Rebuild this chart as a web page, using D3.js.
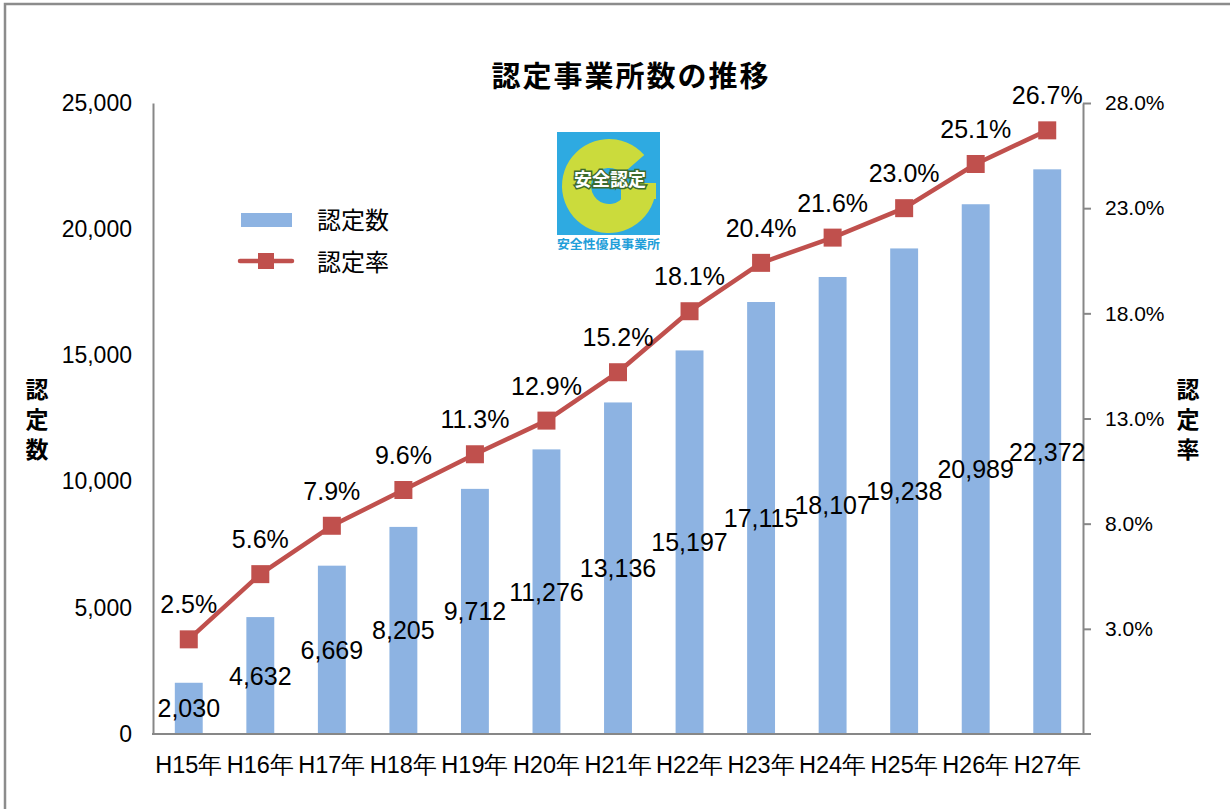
<!DOCTYPE html>
<html>
<head>
<meta charset="utf-8">
<script src="https://cdn.jsdelivr.net/npm/d3@7"></script>
<style>
  body { margin: 0; background: #fff; }
  svg { display: block; font-family: "Liberation Sans", "Noto Sans CJK JP", sans-serif; }
</style>
</head>
<body>
<svg id="chart"></svg>
<script>
// data
const years = ["H15年","H16年","H17年","H18年","H19年","H20年","H21年","H22年","H23年","H24年","H25年","H26年","H27年"];
const counts = [2030, 4632, 6669, 8205, 9712, 11276, 13136, 15197, 17115, 18107, 19238, 20989, 22372];
const rates = [2.5, 5.6, 7.9, 9.6, 11.3, 12.9, 15.2, 18.1, 20.4, 21.6, 23.0, 25.1, 26.7];
const leftTicks = [0, 5000, 10000, 15000, 20000, 25000];
const rightTicks = [3, 8, 13, 18, 23, 28];

const width = 1230, height = 809;
const plotLeft = 153, plotRight = 1083, plotTop = 103, plotBottom = 734;
const axisColor = "#878787";
const barColor = "#8db3e2";
const lineColor = "#c0504d";

const svg = d3.select("#chart").attr("width", width).attr("height", height);

// outer frame (only top + left visible)
svg.append("path")
   .attr("d", `M5,${height} V4 H${width}`)
   .attr("fill", "none")
   .attr("stroke", "#8c8c8c")
   .attr("stroke-width", 2.5);

const x = d3.scaleBand().domain(years).range([plotLeft, plotRight]).paddingInner(0.61).paddingOuter(0.305);
const yL = d3.scaleLinear().domain([0, 25000]).range([plotBottom, plotTop]);
const yR = d3.scaleLinear().domain([-2, 28]).range([plotBottom, plotTop]);
const cx = d => x(d) + x.bandwidth() / 2;

// title
svg.append("text")
   .attr("x", 631).attr("y", 77)
   .attr("text-anchor", "middle").attr("dominant-baseline", "central")
   .attr("font-size", 29).attr("font-weight", "bold")
   .attr("letter-spacing", 2)
   .text("認定事業所数の推移");

// bars
svg.append("g").selectAll("rect")
   .data(counts)
   .enter().append("rect")
   .attr("x", (d, i) => x(years[i]))
   .attr("y", d => yL(d))
   .attr("width", x.bandwidth())
   .attr("height", d => plotBottom - yL(d))
   .attr("fill", barColor);

// left axis
const gL = svg.append("g")
   .attr("transform", `translate(${plotLeft},0)`)
   .call(d3.axisLeft(yL).tickValues(leftTicks).tickSize(0).tickSizeOuter(0).tickPadding(21).tickFormat(d3.format(",")));
gL.select(".domain").attr("stroke", axisColor).attr("stroke-width", 2);
gL.selectAll("text").attr("font-size", 23).attr("fill", "#000").attr("font-family", null);

// right axis
const gR = svg.append("g")
   .attr("transform", `translate(${plotRight},0)`)
   .call(d3.axisRight(yR).tickValues(rightTicks).tickSize(8).tickSizeOuter(0).tickPadding(14).tickFormat(d => d.toFixed(1) + "%"));
gR.select(".domain").attr("stroke", axisColor).attr("stroke-width", 2);
gR.selectAll("line").attr("stroke", axisColor).attr("stroke-width", 2);
gR.selectAll("text").attr("font-size", 21).attr("fill", "#000").attr("font-family", null);

// bottom axis
const gB = svg.append("g")
   .attr("transform", `translate(0,${plotBottom})`)
   .call(d3.axisBottom(x).tickSize(0).tickPadding(22));
gB.select(".domain").remove();
gB.append("line")
   .attr("x1", plotLeft - 1).attr("x2", plotRight + 8)
   .attr("stroke", axisColor).attr("stroke-width", 2);
gB.selectAll("text").attr("font-size", 23.5).attr("fill", "#000").attr("font-family", null);

// bar value labels (middle of bar)
svg.append("g").selectAll("text")
   .data(counts)
   .enter().append("text")
   .attr("x", (d, i) => cx(years[i]))
   .attr("y", d => (yL(d) + plotBottom) / 2)
   .attr("text-anchor", "middle").attr("dominant-baseline", "central")
   .attr("font-size", 25)
   .text(d => d3.format(",")(d));

// rate line
const line = d3.line()
   .x((d, i) => cx(years[i]))
   .y(d => yR(d));

svg.append("path")
   .datum(rates)
   .attr("d", line)
   .attr("fill", "none")
   .attr("stroke", lineColor)
   .attr("stroke-width", 4.5)
   .attr("stroke-linejoin", "round");

svg.append("g").selectAll("rect")
   .data(rates)
   .enter().append("rect")
   .attr("x", (d, i) => cx(years[i]) - 9)
   .attr("y", d => yR(d) - 9)
   .attr("width", 18).attr("height", 18)
   .attr("fill", lineColor);

svg.append("g").selectAll("text")
   .data(rates)
   .enter().append("text")
   .attr("x", (d, i) => cx(years[i]))
   .attr("y", d => yR(d) - 35)
   .attr("text-anchor", "middle").attr("dominant-baseline", "central")
   .attr("font-size", 25)
   .text(d => d.toFixed(1) + "%");

// axis titles, vertical writing
function vTitle(str, xPos) {
  svg.append("text")
     .attr("x", xPos).attr("y", 423)
     .attr("writing-mode", "vertical-rl")
     .attr("text-anchor", "middle")
     .attr("font-size", 23).attr("font-weight", "bold")
     .attr("letter-spacing", 7)
     .attr("font-family", "'Noto Sans CJK JP', sans-serif")
     .text(str);
}
vTitle("認定数", 37);
vTitle("認定率", 1188);

// legend
const legend = svg.append("g");
legend.append("rect")
   .attr("x", 241).attr("y", 213).attr("width", 51).attr("height", 14)
   .attr("fill", barColor);
legend.append("text")
   .attr("x", 317).attr("y", 220).attr("dominant-baseline", "central")
   .attr("font-size", 24).text("認定数");
legend.append("line")
   .attr("x1", 240).attr("x2", 292).attr("y1", 261).attr("y2", 261)
   .attr("stroke", lineColor).attr("stroke-width", 4.5).attr("stroke-linecap", "round");
legend.append("rect")
   .attr("x", 258).attr("y", 253).attr("width", 16).attr("height", 16)
   .attr("fill", lineColor);
legend.append("text")
   .attr("x", 317).attr("y", 262).attr("dominant-baseline", "central")
   .attr("font-size", 24).text("認定率");

// G mark logo
const logo = svg.append("g").attr("transform", "translate(557,132)");
logo.append("rect").attr("width", 103).attr("height", 103).attr("fill", "#2eaae1");
const gArc = d3.arc()
   .innerRadius(18).outerRadius(47)
   .startAngle(Math.PI / 2).endAngle(Math.PI * 2.27);
logo.append("path")
   .attr("transform", "translate(52,54)")
   .attr("d", gArc())
   .attr("fill", "#cbdb3c");
logo.append("rect")
   .attr("x", 64).attr("y", 51).attr("width", 35).attr("height", 16)
   .attr("fill", "#cbdb3c");
logo.append("text")
   .attr("x", 53).attr("y", 46)
   .attr("text-anchor", "middle").attr("dominant-baseline", "central")
   .attr("font-size", 18).attr("font-weight", "bold")
   .attr("font-family", "'Noto Sans CJK JP', sans-serif")
   .attr("fill", "#fff")
   .attr("stroke", "#3d6b2d").attr("stroke-width", 3)
   .attr("paint-order", "stroke")
   .text("安全認定");
logo.append("text")
   .attr("x", 0).attr("y", 111)
   .attr("dominant-baseline", "central")
   .attr("font-size", 12.5).attr("font-weight", "bold")
   .attr("font-family", "'Noto Sans CJK JP', sans-serif")
   .attr("textLength", 103).attr("lengthAdjust", "spacingAndGlyphs")
   .attr("fill", "#1f9ed9")
   .text("安全性優良事業所");
</script>
</body>
</html>
